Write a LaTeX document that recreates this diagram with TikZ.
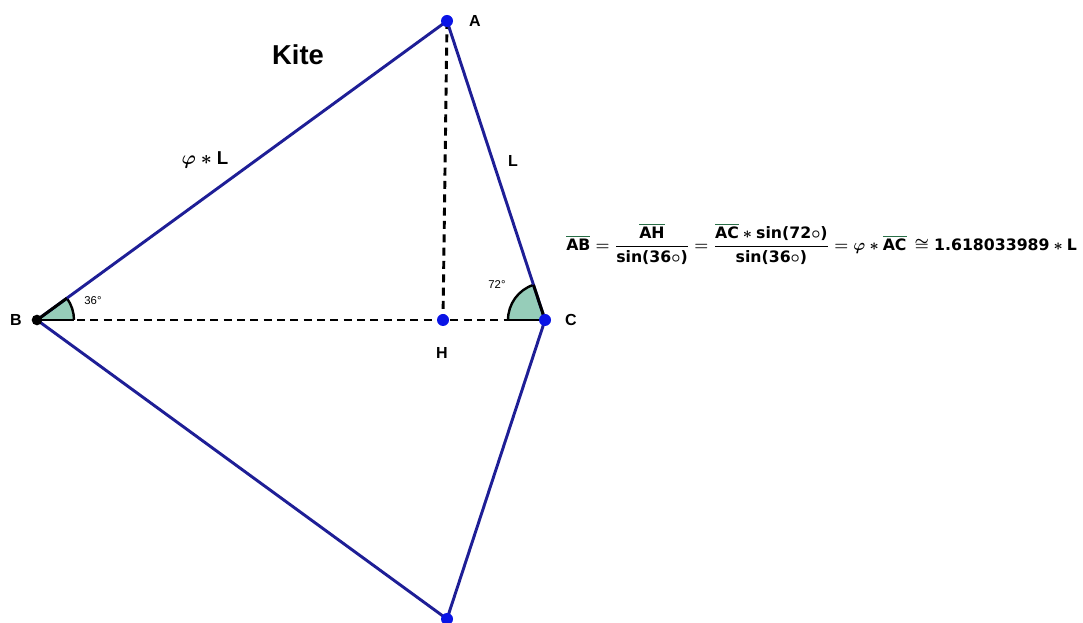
\documentclass[tikz,border=0pt]{standalone}
\usepackage{amsmath}
\usepackage{fontspec}
\setmainfont{DejaVu Sans}
\setsansfont{Liberation Sans}
\usetikzlibrary{calc}
\definecolor{edgeblue}{RGB}{30,30,150}
\definecolor{ptblue}{RGB}{10,20,230}
\definecolor{angfill}{RGB}{150,205,185}
\definecolor{ovc}{RGB}{40,110,70}
\newcommand{\ov}[1]{{\color{ovc}\overline{\color{black}\mbox{\bfseries #1}}}}
\newcommand{\bt}[1]{\mbox{\bfseries #1}}
\tikzset{
  edge/.style={draw=edgeblue, line width=2.2pt},
  dashline/.style={draw=black, line width=2.2pt, dash pattern=on 6pt off 4pt},
  pt/.style={circle, fill=ptblue, inner sep=0pt, minimum size=9pt},
  bpt/.style={circle, fill=black, inner sep=0pt, minimum size=8pt},
  lbl/.style={font=\sffamily\bfseries\fontsize{12}{14}\selectfont},
  anglbl/.style={font=\sffamily\fontsize{8.5}{10}\selectfont}
}
\begin{document}
\begin{tikzpicture}[x=0.75pt,y=-0.75pt]
\useasboundingbox (0,0) rectangle (1083,623);
\coordinate (A) at (447,21);
\coordinate (B) at (37,320);
\coordinate (C) at (545,320);
\coordinate (H) at (443,320);
\coordinate (D) at (447,619);
% angles
\fill[angfill] (B) -- ++(37,0) arc[start angle=0, end angle=36.1, radius=37*0.75pt] -- cycle;
\draw[black, line width=1.8pt] ($(B)+(37,0)$) arc[start angle=0, end angle=36.1, radius=37*0.75pt];
\fill[angfill] (C) -- ++(-37,0) arc[start angle=180, end angle=108.1, radius=37*0.75pt] -- cycle;
\draw[black, line width=1.8pt] ($(C)+(-37,0)$) arc[start angle=180, end angle=108.1, radius=37*0.75pt];
% dashed
\draw[dashline] (B) -- (C);
\draw[dashline] (A) -- (H);
\draw[black, line width=2.2pt] (B) -- ++(37,0);
\draw[black, line width=2.2pt] (C) -- ++(-37,0);
% edges
\draw[edge] (A) -- (B) -- (D) -- (C) -- cycle;
\draw[black, line width=2.2pt] (B) -- ($(B)!37*0.75pt!(A)$);
\draw[black, line width=2.2pt] (C) -- ($(C)!37*0.75pt!(A)$);
% points
\node[pt] (nA) at (A) {};
\node[bpt] (nB) at (B) {};
\node[pt] (nC) at (C) {};
\node[pt] (nH) at (H) {};
\node[pt] (nD) at (D) {};
% labels
\node[lbl] (tA) at (475,21) {A};
\node[lbl] (tB) at (16,320) {B};
\node[lbl] (tC) at (571,320) {C};
\node[lbl] (tH) at (442,353) {H};
\node[lbl] (tL) at (513,161) {L};
\node[font=\boldmath\bfseries\fontsize{14}{16}\selectfont] (tphi) at (205,160) {$\varphi\mathbin{\ast}\mbox{\sffamily L}$};
\node[anglbl] (t36) at (93,301) {36°};
\node[anglbl] (t72) at (497,285) {72°};
\node[font=\sffamily\bfseries\fontsize{20.5}{24}\selectfont] (title) at (298,55) {Kite};
% formula
\node[anchor=west, inner sep=0pt, font=\boldmath\fontsize{11.8}{14}\selectfont] (eq) at (566,244)
 {$\ov{AB} = \dfrac{\ov{AH}}{\bt{sin(36$\circ$)}} = \dfrac{\ov{AC}\ast\bt{sin(72$\circ$)}}{\bt{sin(36$\circ$)}} = \varphi\ast\ov{AC}\,\cong \bt{1.618033989}\ast\bt{L}$};
\end{tikzpicture}
\end{document}
